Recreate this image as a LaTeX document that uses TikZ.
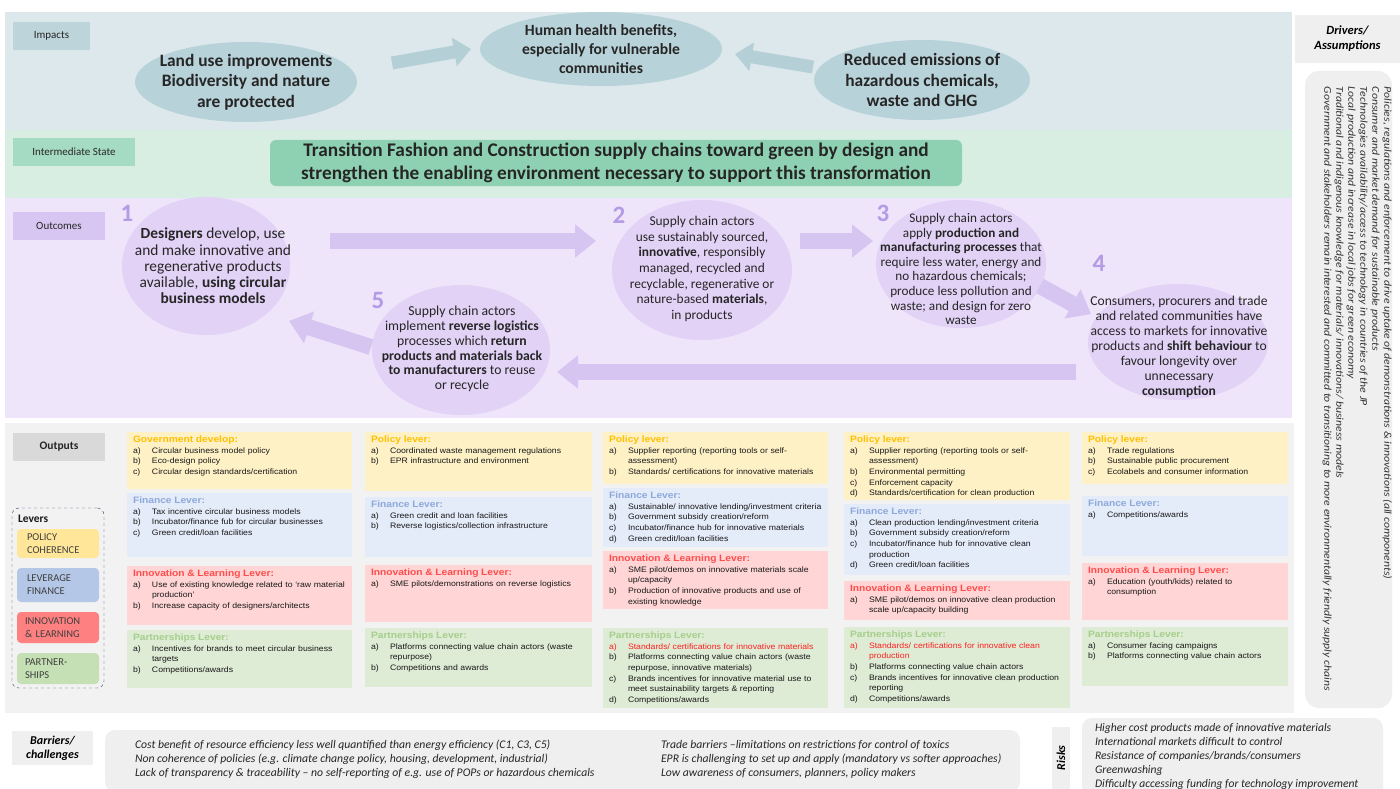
\documentclass[tikz,border=0pt]{standalone}
\usepackage{fontspec}
\setmainfont{Carlito}
\newfontfamily\arialf[FakeStretch=1.1]{Liberation Sans}
\newfontfamily\drvfont[FakeStretch=1.13]{Carlito}
\usetikzlibrary{shapes.geometric,arrows.meta}

\definecolor{impband}{HTML}{DDE8EC}
\definecolor{implab}{HTML}{BDD4DA}
\definecolor{impell}{HTML}{B8D2D9}
\definecolor{imparrow}{HTML}{B4CFD6}
\definecolor{intband}{HTML}{D9EEE3}
\definecolor{intlab}{HTML}{A6DBC3}
\definecolor{intbox}{HTML}{8ED1B2}
\definecolor{outband}{HTML}{EEE5FA}
\definecolor{outlab}{HTML}{D8C6F2}
\definecolor{occirc}{HTML}{E1D2F6}
\definecolor{ocarrow}{HTML}{D6C4F1}
\definecolor{ocnum}{HTML}{B39BE6}
\definecolor{graybg}{HTML}{F2F2F2}
\definecolor{graylab}{HTML}{D9D9D9}
\definecolor{panel}{HTML}{EFEFEF}
\definecolor{ylwbox}{HTML}{FFF1C6}
\definecolor{ylwtit}{HTML}{FFC000}
\definecolor{blubox}{HTML}{E4EBF9}
\definecolor{blutit}{HTML}{8EA9DB}
\definecolor{redbox}{HTML}{FFD5D5}
\definecolor{redtit}{HTML}{FF4D4D}
\definecolor{grnbox}{HTML}{DEEBD5}
\definecolor{grntit}{HTML}{A5CF8B}
\definecolor{legy}{HTML}{FFE699}
\definecolor{legb}{HTML}{B4C7E7}
\definecolor{legr}{HTML}{FF8080}
\definecolor{legg}{HTML}{C5E0B4}
\definecolor{legline}{HTML}{2F3F6F}
\definecolor{redtxt}{HTML}{FF2020}

% output box helpers
\newcommand\otitle[2]{{\color{#1}\fontsize{9.3}{11.4}\selectfont\bfseries #2}\par}
\newcommand\oitem[2]{\hangindent=19pt\hangafter=1\noindent\makebox[19pt][l]{#1}#2\par}
% name, x, y, width, height, fill, content (lines are broken by hand)
\newcommand\obox[7]{%
  \node[boxbase, fill=#6, minimum width=#4pt, minimum height=#5pt] (#1) at (#2,#3) {};
  \node[otext, text width=#4pt+10pt] (#1t) at ([xshift=6pt,yshift=-4pt]#1.north west) {\hyphenpenalty=10000 #7};
}

\tikzset{
  every node/.style={inner sep=0pt, outer sep=0pt},
  lbl/.style={fill=#1, anchor=north west, minimum height=28pt,
    font=\fontsize{11}{13}\selectfont, text=black!85},
  impell/.style={ellipse, fill=impell},
  imptext/.style={align=center, font=\fontsize{17.4}{20.5}\selectfont\bfseries, text=black!85},
  imparr/.style={draw=imparrow, line width=13pt, -{Triangle[length=17pt,width=28pt]}},
  occ/.style={ellipse, fill=occirc},
  octext/.style={align=center, font=\fontsize{13.6}{15}\selectfont, text=black!85},
  ocarr/.style={draw=ocarrow, line width=16pt, -{Triangle[length=21pt,width=32pt]}},
  ocnum/.style={text=ocnum, font=\fontsize{25}{25}\selectfont\bfseries},
  boxbase/.style={anchor=north west, rectangle},
  otext/.style={anchor=north west, align=left, text=black!90,
    font=\arialf\fontsize{7.9}{10.6}\selectfont},
  legbox/.style={fill=#1, rounded corners=4pt, anchor=north west,
    minimum width=82pt, text width=74pt, align=left,
    font=\fontsize{10.5}{13}\selectfont, text=black!75},
  btext/.style={anchor=west, align=left, font=\fontsize{11.7}{14}\selectfont\itshape, text=black!85},
}

\begin{document}
\begin{tikzpicture}[x=1pt,y=-1pt]
\useasboundingbox[fill=white] (0,0) rectangle (1400,789);

% ---------- horizontal bands ----------
\fill[impband] (5,12) rectangle (1292,130);
\fill[intband] (5,130) rectangle (1292,198);
\fill[outband] (5,198) rectangle (1292,418);
\fill[graybg] (5,423) rectangle (1294,713);

% ---------- band labels ----------
\node[lbl=implab, minimum width=77pt] (limp) at (13,22) {Impacts};
\node[lbl=intlab, minimum width=122pt] (lint) at (13,138) {Intermediate State};
\node[lbl=outlab, minimum width=92pt] (lout) at (13,212) {Outcomes};
\node[lbl=graylab, minimum width=92pt, font=\fontsize{11.5}{13}\selectfont\bfseries] (loutp) at (13,433) {Outputs};

% ---------- impacts ----------
\node[impell, minimum width=222pt, minimum height=80pt] (e1) at (246,82) {};
\node[imptext] at (e1) {Land use improvements\\Biodiversity and nature\\are protected};
\node[impell, minimum width=242pt, minimum height=74pt] (e2) at (601,49) {};
\node[imptext, font=\fontsize{15.6}{19}\selectfont\bfseries] at (e2) {Human health benefits,\\especially for vulnerable\\communities};
\node[impell, minimum width=216pt, minimum height=80pt] (e3) at (922,80) {};
\node[imptext] at (e3) {Reduced emissions of\\hazardous chemicals,\\waste and GHG};

\coordinate (a1s) at (392,63);
\coordinate (a1e) at (471,49);
\coordinate (a2s) at (813,67);
\coordinate (a2e) at (735,54);
\draw[imparr] (a1s) -- (a1e);
\draw[imparr] (a2s) -- (a2e);

% ---------- intermediate state ----------
\node[fill=intbox, rounded corners=6pt, minimum width=692pt, minimum height=46pt,
      align=center, font=\fontsize{19.3}{23}\selectfont\bfseries, text=black!85] (istate) at (616,163)
  {Transition Fashion and Construction supply chains toward green by design and\\
   strengthen the enabling environment necessary to support this transformation};

% ---------- outcomes ----------
\node[occ, minimum width=168pt, minimum height=138pt] (c1) at (206,266) {};
\node[occ, minimum width=180pt, minimum height=140pt] (c2) at (702,270) {};
\node[occ, minimum width=170pt, minimum height=128pt] (c3) at (961,264) {};
\node[occ, minimum width=180pt, minimum height=116pt] (c4) at (1178,342) {};
\node[occ, minimum width=178pt, minimum height=130pt] (c5) at (461,350) {};

\node[octext, font=\fontsize{15.4}{16.2}\selectfont] (t1) at (213,266)
  {\textbf{Designers} develop, use\\and make innovative and\\regenerative products\\available, \textbf{using circular}\\\textbf{business models}};
\node[octext, font=\fontsize{13.4}{15.6}\selectfont] (t2) at (702,269)
  {Supply chain actors\\use sustainably sourced,\\\textbf{innovative}, responsibly\\managed, recycled and\\recyclable, regenerative or\\nature-based \textbf{materials},\\in products};
\node[octext, font=\fontsize{13.2}{14.6}\selectfont] (t3) at (961,269)
  {Supply chain actors\\apply \textbf{production and}\\\textbf{manufacturing processes} that\\require less water, energy and\\no hazardous chemicals;\\produce less pollution and\\waste; and design for zero\\waste};
\node[octext] (t4) at (1179,347)
  {Consumers, procurers and trade\\and related communities have\\access to markets for innovative\\products and \textbf{shift behaviour} to\\favour longevity over\\unnecessary\\\textbf{consumption}};
\node[octext, font=\fontsize{13.7}{14.8}\selectfont] (t5) at (462,349)
  {Supply chain actors\\implement \textbf{reverse logistics}\\processes which \textbf{return}\\\textbf{products and materials back}\\\textbf{to manufacturers} to reuse\\or recycle};

\node[ocnum] (n1) at (127,213) {1};
\node[ocnum] (n2) at (619,215) {2};
\node[ocnum] (n3) at (883,213) {3};
\node[ocnum] (n4) at (1099,263) {4};
\node[ocnum] (n5) at (378,300) {5};

\coordinate (o1s) at (330,241);
\coordinate (o1e) at (596,241);
\coordinate (o2s) at (800,241);
\coordinate (o2e) at (873,241);
\coordinate (o3s) at (1040,286);
\coordinate (o3e) at (1091,314);
\coordinate (o4s) at (1076,372);
\coordinate (o4e) at (557,372);
\coordinate (o5s) at (371,347);
\coordinate (o5e) at (289,321);
\draw[ocarr] (o1s) -- (o1e);
\draw[ocarr] (o2s) -- (o2e);
\draw[ocarr] (o3s) -- (o3e);
\draw[ocarr] (o4s) -- (o4e);
\draw[ocarr] (o5s) -- (o5e);

% ---------- outputs: column 1 ----------
\obox{p1}{127}{432}{225}{57}{ylwbox}{\otitle{ylwtit}{Government develop:}
  \oitem{a)}{Circular business model policy}
  \oitem{b)}{Eco-design policy}
  \oitem{c)}{Circular design standards/certification}}
\obox{f1}{127}{493}{225}{64}{blubox}{\otitle{blutit}{Finance Lever:}
  \oitem{a)}{Tax incentive circular business models}
  \oitem{b)}{Incubator/finance fub for circular businesses}
  \oitem{c)}{Green credit/loan facilities}}
\obox{i1}{127}{566}{225}{59}{redbox}{\otitle{redtit}{Innovation \& Learning Lever:}
  \oitem{a)}{Use of existing knowledge related to ‘raw material\newline production’}
  \oitem{b)}{Increase capacity of designers/architects}}
\obox{g1}{127}{630}{225}{58}{grnbox}{\otitle{grntit}{Partnerships Lever:}
  \oitem{a)}{Incentives for brands to meet circular business\newline targets}
  \oitem{b)}{Competitions/awards}}

% ---------- outputs: column 2 ----------
\obox{p2}{365}{432}{227}{59}{ylwbox}{\otitle{ylwtit}{Policy lever:}
  \oitem{a)}{Coordinated waste management regulations}
  \oitem{b)}{EPR infrastructure and environment}}
\obox{f2}{365}{497}{227}{60}{blubox}{\otitle{blutit}{Finance Lever:}
  \oitem{a)}{Green credit and loan facilities}
  \oitem{b)}{Reverse logistics/collection infrastructure}}
\obox{i2}{365}{565}{227}{57}{redbox}{\otitle{redtit}{Innovation \& Learning Lever:}
  \oitem{a)}{SME pilots/demonstrations on reverse logistics}}
\obox{g2}{365}{628}{227}{59}{grnbox}{\otitle{grntit}{Partnerships Lever:}
  \oitem{a)}{Platforms connecting value chain actors (waste\newline repurpose)}
  \oitem{b)}{Competitions and awards}}

% ---------- outputs: column 3 ----------
\obox{p3}{603}{432}{225}{52}{ylwbox}{\otitle{ylwtit}{Policy lever:}
  \oitem{a)}{Supplier reporting (reporting tools or self-\newline assessment)}
  \oitem{b)}{Standards/ certifications for innovative materials}}
\obox{f3}{603}{488}{225}{59}{blubox}{\otitle{blutit}{Finance Lever:}
  \oitem{a)}{Sustainable/ innovative lending/investment criteria}
  \oitem{b)}{Government subsidy creation/reform}
  \oitem{c)}{Incubator/finance hub for innovative materials}
  \oitem{d)}{Green credit/loan facilities}}
\obox{i3}{603}{551}{225}{58}{redbox}{\otitle{redtit}{Innovation \& Learning Lever:}
  \oitem{a)}{SME pilot/demos on innovative materials scale\newline up/capacity}
  \oitem{b)}{Production of innovative products and use of\newline existing knowledge}}
\obox{g3}{603}{628}{225}{80}{grnbox}{\otitle{grntit}{Partnerships Lever:}
  {\color{redtxt}\oitem{a)}{Standards/ certifications for innovative materials}}
  \oitem{b)}{Platforms connecting value chain actors (waste\newline repurpose, innovative materials)}
  \oitem{c)}{Brands incentives for innovative material use to\newline meet sustainability targets \& reporting}
  \oitem{d)}{Competitions/awards}}

% ---------- outputs: column 4 ----------
\obox{p4}{844}{432}{226}{68}{ylwbox}{\otitle{ylwtit}{Policy lever:}
  \oitem{a)}{Supplier reporting (reporting tools or self-\newline assessment)}
  \oitem{b)}{Environmental permitting}
  \oitem{c)}{Enforcement capacity}
  \oitem{d)}{Standards/certification for clean production}}
\obox{f4}{844}{504}{226}{71}{blubox}{\otitle{blutit}{Finance Lever:}
  \oitem{a)}{Clean production lending/investment criteria}
  \oitem{b)}{Government subsidy creation/reform}
  \oitem{c)}{Incubator/finance hub for innovative clean\newline production}
  \oitem{d)}{Green credit/loan facilities}}
\obox{i4}{844}{581}{226}{39}{redbox}{\otitle{redtit}{Innovation \& Learning Lever:}
  \oitem{a)}{SME pilot/demos on innovative clean production\newline scale up/capacity building}}
\obox{g4}{844}{627}{226}{81}{grnbox}{\otitle{grntit}{Partnerships Lever:}
  {\color{redtxt}\oitem{a)}{Standards/ certifications for innovative clean\newline production}}
  \oitem{b)}{Platforms connecting value chain actors}
  \oitem{c)}{Brands incentives for innovative clean production\newline reporting}
  \oitem{d)}{Competitions/awards}}

% ---------- outputs: column 5 ----------
\obox{p5}{1082}{432}{206}{52}{ylwbox}{\otitle{ylwtit}{Policy lever:}
  \oitem{a)}{Trade regulations}
  \oitem{b)}{Sustainable public procurement}
  \oitem{c)}{Ecolabels and consumer information}}
\obox{f5}{1082}{496}{206}{60}{blubox}{\otitle{blutit}{Finance Lever:}
  \oitem{a)}{Competitions/awards}}
\obox{i5}{1082}{563}{206}{57}{redbox}{\otitle{redtit}{Innovation \& Learning Lever:}
  \oitem{a)}{Education (youth/kids) related to\newline consumption}}
\obox{g5}{1082}{627}{206}{59}{grnbox}{\otitle{grntit}{Partnerships Lever:}
  \oitem{a)}{Consumer facing campaigns}
  \oitem{b)}{Platforms connecting value chain actors}}

% ---------- levers legend ----------
\node[draw=legline, dashed, rounded corners=7pt, anchor=north west,
      minimum width=92pt, minimum height=180pt] (lev) at (12,508) {};
\node[anchor=west, font=\fontsize{11.5}{13}\selectfont\bfseries, text=black!90] (levt) at (18,519) {Levers};
\node[legbox=legy, minimum height=29pt] (lg1) at (17,529) {\hspace*{6pt}POLICY\\\hspace*{6pt}COHERENCE};
\node[legbox=legb, minimum height=34pt] (lg2) at (17,568) {\hspace*{6pt}LEVERAGE\\\hspace*{6pt}FINANCE};
\node[legbox=legr, minimum height=31pt] (lg3) at (17,612) {\hspace*{4pt}INNOVATION\\\hspace*{4pt}\& LEARNING};
\node[legbox=legg, minimum height=31pt] (lg4) at (17,653) {\hspace*{4pt}PARTNER-\\\hspace*{4pt}SHIPS};

% ---------- drivers / assumptions ----------
\node[fill=panel, anchor=north west, minimum width=105pt, minimum height=48pt,
      align=center, font=\fontsize{12.5}{15}\selectfont\bfseries\itshape] (drh) at (1295,15)
  {Drivers/\\Assumptions};
\node[fill=panel, rounded corners=14pt, anchor=north west, minimum width=87pt, minimum height=637pt] (drb) at (1305,71) {};
\node[rotate=-90, anchor=north west, align=left, text=black!80,
      font=\drvfont\fontsize{10.4}{12}\selectfont\itshape] (drt) at (1392,87)
  {Policies, regulations and enforcement to drive uptake of demonstrations \& innovations (all components)\\
   Consumer and market demand for sustainable products\\
   Technologies availability/access to technology in countries of the JP\\
   Local production and increase in local jobs for green economy\\
   Traditional and indigenous knowledge for materials/ innovations/ business models\\
   Government and stakeholders remain interested and committed to transitioning to more environmentally friendly supply chains};

% ---------- barriers / challenges ----------
\node[fill=panel, anchor=north west, minimum width=81pt, minimum height=34pt,
      align=center, font=\fontsize{12}{14}\selectfont\bfseries\itshape] (barl) at (12,731)
  {Barriers/\\challenges};
\node[fill=panel, rounded corners=10pt, anchor=north west, minimum width=915pt, minimum height=62pt] (barb) at (105,730) {};
\node[btext] (bar1) at (135,759)
  {Cost benefit of resource efficiency less well quantified than energy efficiency (C1, C3, C5)\\
   Non coherence of policies (e.g. climate change policy, housing, development, industrial)\\
   Lack of transparency \& traceability -- no self-reporting of e.g. use of POPs or hazardous chemicals};
\node[btext] (bar2) at (661,759)
  {Trade barriers --limitations on restrictions for control of toxics\\
   EPR is challenging to set up and apply (mandatory vs softer approaches)\\
   Low awareness of consumers, planners, policy makers};

% ---------- risks ----------
\node[fill=panel, anchor=north west, minimum width=18pt, minimum height=70pt] (rskl) at (1052,727) {};
\node[rotate=90, font=\fontsize{12}{14}\selectfont\bfseries\itshape] (rskt) at (1061,758) {Risks};
\node[fill=panel, rounded corners=10pt, anchor=north west, minimum width=301pt, minimum height=80pt] (rskb) at (1082,718) {};
\node[btext, font=\fontsize{11.6}{14}\selectfont\itshape] (rsk) at (1095,756)
  {Higher cost products made of innovative materials\\
   International markets difficult to control\\
   Resistance of companies/brands/consumers\\
   Greenwashing\\
   Difficulty accessing funding for technology improvement};
\end{tikzpicture}
\end{document}
